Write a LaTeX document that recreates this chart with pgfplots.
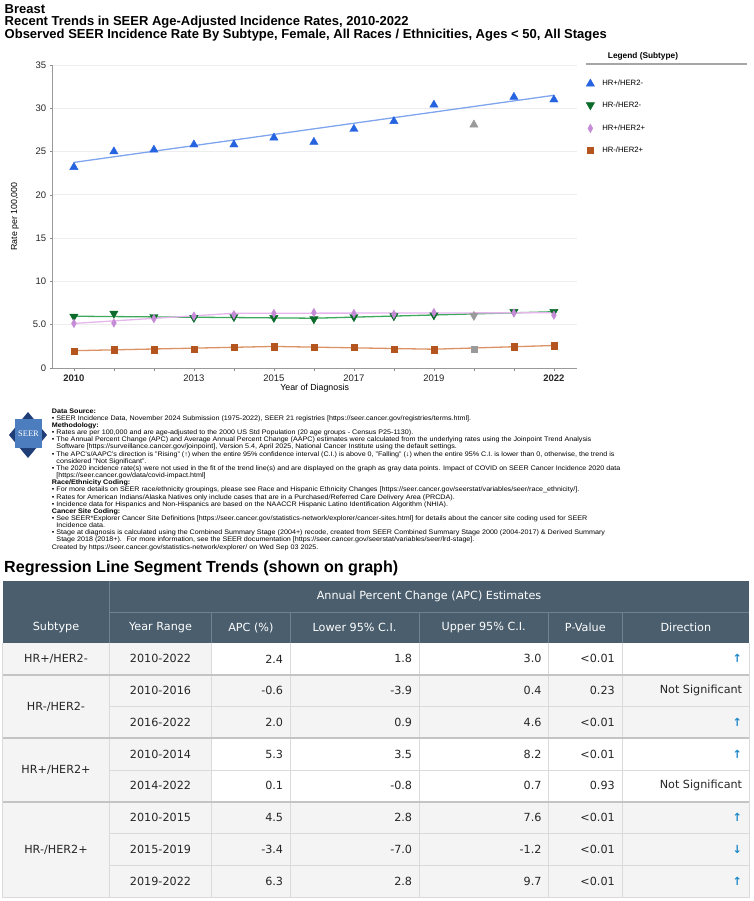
\documentclass[border=0pt]{standalone}
\usepackage{pgfplots}
\pgfplotsset{compat=1.18}
\usepackage{fontspec}
\setmainfont{Liberation Sans}
\newfontfamily\tabfont{DejaVu Sans}
\newfontfamily\serifont{Liberation Serif}
\definecolor{cblue}{HTML}{2563E0}
\definecolor{cblueL}{HTML}{7FA5EE}
\definecolor{cgreen}{HTML}{0B6B2B}
\definecolor{cgreenL}{HTML}{3EA85C}
\definecolor{cpink}{HTML}{C58BD6}
\definecolor{cpinkL}{HTML}{E5B5EC}
\definecolor{cbrown}{HTML}{B4541F}
\definecolor{cbrownL}{HTML}{DB9265}
\definecolor{cgray}{HTML}{9A9A9A}
\definecolor{hdr}{HTML}{4A5E6D}
\definecolor{hdrline}{HTML}{6E8290}
\definecolor{cellg}{HTML}{F4F4F4}
\definecolor{gridl}{HTML}{DADADA}
\definecolor{thickl}{HTML}{C4C4C4}
\definecolor{arrowc}{HTML}{1E88C8}
\definecolor{seerdark}{HTML}{1F3E78}
\definecolor{seerlight}{HTML}{4C7DBE}
\begin{document}
\begin{tikzpicture}
\begin{scope}[x=1pt,y=-1pt]
\path[use as bounding box] (0,0) rectangle (753,901);
% titles
\node[anchor=west,inner sep=0] at (4.5,9) {\fontsize{13}{14}\selectfont\bfseries Breast};
\node[anchor=west,inner sep=0] at (4.5,22) {\fontsize{13}{14}\selectfont\bfseries Recent Trends in SEER Age-Adjusted Incidence Rates, 2010-2022};
\node[anchor=west,inner sep=0] at (4.5,35) {\fontsize{13}{14}\selectfont\bfseries Observed SEER Incidence Rate By Subtype, Female, All Races / Ethnicities, Ages < 50, All Stages};
% legend title
\node[inner sep=0] at (643,56) {\fontsize{8.3}{9}\selectfont\bfseries Legend (Subtype)};
\draw[black!35,line width=1.2pt] (586,64) -- (747,64);

% SEER logo
\fill[seerdark] (28,412) -- (47,435) -- (28,458) -- (9,435) -- cycle;
\fill[seerlight] (15,419) rectangle (42,448);
\node[text=white,inner sep=0] at (28.5,434) {\serifont\fontsize{8.5}{9}\selectfont SEER};

% notes
\node[anchor=north west, inner sep=0, align=left, xscale=1.085, transform shape, font=\fontsize{6.6}{7.16}\selectfont] at (51.7,408.3) {%
\textbf{Data Source:}\\
• SEER Incidence Data, November 2024 Submission (1975-2022), SEER 21 registries [https://seer.cancer.gov/registries/terms.html].\\
\textbf{Methodology:}\\
• Rates are per 100,000 and are age-adjusted to the 2000 US Std Population (20 age groups - Census P25-1130).\\
• The Annual Percent Change (APC) and Average Annual Percent Change (AAPC) estimates were calculated from the underlying rates using the Joinpoint Trend Analysis\\
\hspace*{4.2pt}Software [https://surveillance.cancer.gov/joinpoint], Version 5.4, April 2025, National Cancer Institute using the default settings.\\
• The APC's/AAPC's direction is "Rising" (↑) when the entire 95\% confidence interval (C.I.) is above 0, "Falling" (↓) when the entire 95\% C.I. is lower than 0, otherwise, the trend is\\
\hspace*{4.2pt}considered "Not Significant".\\
• The 2020 incidence rate(s) were not used in the fit of the trend line(s) and are displayed on the graph as gray data points. Impact of COVID on SEER Cancer Incidence 2020 data\\
\hspace*{4.2pt}[https://seer.cancer.gov/data/covid-impact.html]\\
\textbf{Race/Ethnicity Coding:}\\
• For more details on SEER race/ethnicity groupings, please see Race and Hispanic Ethnicity Changes [https://seer.cancer.gov/seerstat/variables/seer/race\_ethnicity/].\\
• Rates for American Indians/Alaska Natives only include cases that are in a Purchased/Referred Care Delivery Area (PRCDA).\\
• Incidence data for Hispanics and Non-Hispanics are based on the NAACCR Hispanic Latino Identification Algorithm (NHIA).\\
\textbf{Cancer Site Coding:}\\
• See SEER*Explorer Cancer Site Definitions [https://seer.cancer.gov/statistics-network/explorer/cancer-sites.html] for details about the cancer site coding used for SEER\\
\hspace*{4.2pt}Incidence data.\\
• Stage at diagnosis is calculated using the Combined Summary Stage (2004+) recode, created from SEER Combined Summary Stage 2000 (2004-2017) \& Derived Summary\\
\hspace*{4.2pt}Stage 2018 (2018+).~ For more information, see the SEER documentation [https://seer.cancer.gov/seerstat/variables/seer/lrd-stage].\\
Created by https://seer.cancer.gov/statistics-network/explorer/ on Wed Sep 03 2025.};

% heading
\node[anchor=west,inner sep=0] at (4,568) {\resizebox{394pt}{!}{\bfseries Regression Line Segment Trends (shown on graph)}};

% ---- table ----
\fill[hdr] (2.7,581) rectangle (749.3,643);
\draw[hdrline, line width=1pt] (109.3,581) -- (109.3,643);
\draw[hdrline, line width=1pt] (109.3,612) -- (749.3,612);
\foreach \x in {211.7,290,419,548.3,622.3} \draw[hdrline, line width=1pt] (\x,612) -- (\x,643);
\begin{scope}[every node/.style={inner sep=0,text=white,font=\tabfont\fontsize{11.2}{12}\selectfont}]
\node at (429,596.5) {Annual Percent Change (APC) Estimates};
\node at (56,627.5) {Subtype};
\node at (160.5,627.5) {Year Range};
\node at (250.9,627.5) {APC (\%)};
\node at (354.5,627.5) {Lower 95\% C.I.};
\node at (483.7,627.5) {Upper 95\% C.I.};
\node at (585.3,627.5) {P-Value};
\node at (685.8,627.5) {Direction};
\end{scope}
\fill[cellg] (2.7,643) rectangle (211.7,897);
\fill[white] (211.7,643) rectangle (749.3,674.75);
\fill[cellg] (211.7,674.75) rectangle (749.3,738.25);
\fill[white] (211.7,738.25) rectangle (749.3,801.75);
\fill[cellg] (211.7,801.75) rectangle (749.3,897);
\foreach \yy in {706.5,770,833.5,865.25} \draw[gridl, line width=0.9pt] (109.3,\yy) -- (749.3,\yy);
\foreach \x in {109.3,211.7,290,419,548.3,622.3} \draw[gridl, line width=0.9pt] (\x,643) -- (\x,897);
\draw[gridl, line width=0.9pt] (2.7,643) -- (2.7,897) -- (749.3,897) -- (749.3,643);
\foreach \yy in {674.75,738.25,801.75} \draw[thickl, line width=2.4pt] (2.7,\yy) -- (749.3,\yy);
\begin{scope}[every node/.style={inner sep=0,text=black!85,font=\tabfont\fontsize{11.2}{12}\selectfont}]
\node at (56,658.9) {HR+/HER2-};
\node at (56,706.5) {HR-/HER2-};
\node at (56,770) {HR+/HER2+};
\node at (56,849.4) {HR-/HER2+};
\foreach \i/\yr/\apc/\lo/\up/\p/\d in {
 0/2010-2022/2.4/1.8/3.0/<0.01/{\textcolor{arrowc}{\bfseries ↑}},
 1/2010-2016/-0.6/-3.9/0.4/0.23/{Not Significant},
 2/2016-2022/2.0/0.9/4.6/<0.01/{\textcolor{arrowc}{\bfseries ↑}},
 3/2010-2014/5.3/3.5/8.2/<0.01/{\textcolor{arrowc}{\bfseries ↑}},
 4/2014-2022/0.1/-0.8/0.7/0.93/{Not Significant},
 5/2010-2015/4.5/2.8/7.6/<0.01/{\textcolor{arrowc}{\bfseries ↑}},
 6/2015-2019/-3.4/-7.0/-1.2/<0.01/{\textcolor{arrowc}{\bfseries ↓}},
 7/2019-2022/6.3/2.8/9.7/<0.01/{\textcolor{arrowc}{\bfseries ↑}}}{
 \pgfmathsetmacro\yc{643+31.75*(\i+0.5)}
 \node at (160.5,\yc) {\yr};
 \node[anchor=east] at (283.3,\yc) {\apc};
 \node[anchor=east] at (412.3,\yc) {\lo};
 \node[anchor=east] at (541.7,\yc) {\up};
 \node[anchor=east] at (615,\yc) {\p};
 \node[anchor=east] at (742.3,\yc) {\d};
}
\end{scope}
\end{scope}

\begin{axis}[
  at={(52.7pt,-368pt)}, anchor=south west, scale only axis,
  width=524pt, height=303pt,
  xmin=2009.47, xmax=2022.57, ymin=0, ymax=35,
  axis x line*=bottom, axis y line*=left,
  axis line style={draw=black!40, line width=0.6pt},
  ytick={0,5,10,15,20,25,30,35},
  yticklabels={0,5.0,10,15,20,25,30,35},
  xtick={2010,2011,2012,2013,2014,2015,2016,2017,2018,2019,2020,2021,2022},
  xticklabels={\textbf{2010},,,2013,,2015,,2017,,2019,,,\textbf{2022}},
  tick align=outside, major tick length=3pt,
  tick style={black!45, line width=0.5pt},
  ymajorgrids, grid style={black!7, line width=0.8pt},
  ticklabel style={font=\fontsize{9.5}{10}\selectfont, text=black!85},
  xlabel={Year of Diagnosis}, ylabel={Rate per 100,000},
  label style={font=\fontsize{8.8}{10}\selectfont},
  xlabel style={at={(axis description cs:0.5,0)}, anchor=center, yshift=-20pt},
  ylabel style={at={(axis description cs:0,0.5)}, anchor=center, yshift=37.7pt},
  legend style={at={(1,1)}, anchor=north west, xshift=9.3pt, yshift=-13.8pt,
    draw=none, fill=none, font=\fontsize{7.7}{8}\selectfont, row sep=14.2pt,
    inner sep=0pt, nodes={inner sep=0pt, anchor=west}},
  legend cell align=left,
  legend image code/.code={\draw[mark repeat=2,mark phase=2,#1] plot coordinates {(0pt,0pt) (4pt,0pt) (8pt,0pt)}; \path (15.7pt,0pt);},
]
\addplot[cblueL, line width=1.3pt, forget plot] coordinates {(2010,23.75) (2022,31.5)};
\addplot[cgreenL, line width=1.3pt, forget plot] coordinates {(2010,5.98) (2016,5.75) (2022,6.5)};
\addplot[cpinkL, line width=1.3pt, forget plot] coordinates {(2010,5.15) (2014,6.32) (2022,6.38)};
\addplot[cbrownL, line width=1.3pt, forget plot] coordinates {(2010,2.0) (2015,2.49) (2019,2.17) (2022,2.6)};
\addplot[only marks, mark=triangle*, mark size=4.8pt, color=cblue] coordinates {
 (2010,23.2) (2011,25.0) (2012,25.2) (2013,25.8) (2014,25.8) (2015,26.6) (2016,26.1)
 (2017,27.6) (2018,28.5) (2019,30.4) (2021,31.3) (2022,31.0)};
\addlegendentry{HR+/HER2-}
\addplot[only marks, mark=triangle*, mark size=4.8pt, mark options={rotate=180}, color=cgreen] coordinates {
 (2010,5.95) (2011,6.3) (2012,5.9) (2013,5.8) (2014,5.9) (2015,5.8) (2016,5.65)
 (2017,5.9) (2018,6.0) (2019,6.1) (2021,6.5) (2022,6.5)};
\addlegendentry{HR-/HER2-}
\addplot[only marks, mark=diamond*, mark size=4.3pt, mark options={xscale=0.75}, color=cpink] coordinates {
 (2010,5.15) (2011,5.2) (2012,5.7) (2013,6.0) (2014,6.15) (2015,6.3) (2016,6.4)
 (2017,6.3) (2018,6.2) (2019,6.4) (2021,6.35) (2022,6.1)};
\addlegendentry{HR+/HER2+}
\addplot[only marks, mark=square*, mark size=3.1pt, color=cbrown] coordinates {
 (2010,1.96) (2011,2.12) (2012,2.12) (2013,2.2) (2014,2.42) (2015,2.45) (2016,2.38)
 (2017,2.42) (2018,2.2) (2019,2.12) (2021,2.45) (2022,2.58)};
\addlegendentry{HR-/HER2+}
\addplot[only marks, mark=triangle*, mark size=4.8pt, color=cgray, forget plot] coordinates {(2020,28.1)};
\addplot[only marks, mark=triangle*, mark size=4.8pt, mark options={rotate=180}, color=cgray, forget plot] coordinates {(2020,6.05)};
\addplot[only marks, mark=diamond*, mark size=4.3pt, mark options={xscale=0.75}, color=cgray, forget plot] coordinates {(2020,6.05)};
\addplot[only marks, mark=square*, mark size=3.1pt, color=cgray, forget plot] coordinates {(2020,2.2)};
\end{axis}
\end{tikzpicture}
\end{document}
